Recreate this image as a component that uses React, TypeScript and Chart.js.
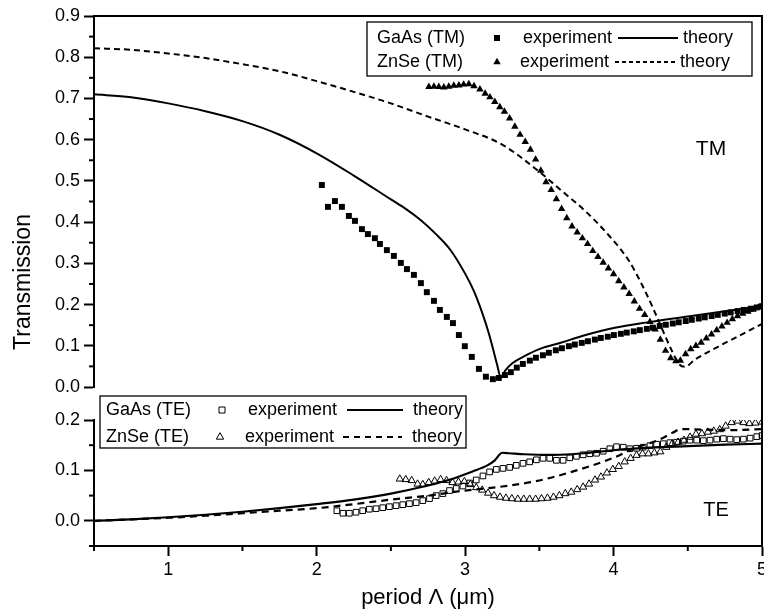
import React, { useEffect, useRef } from 'react';
import { Chart, registerables } from 'chart.js';

Chart.register(...registerables);

const FONT = '"Liberation Sans", Arial, Helvetica, sans-serif';

// ---------- axes ----------
const xMin = 0.5;
const xMax = 5;
const xMajorTicks = [1, 2, 3, 4, 5];
const xMinorTicks = [0.5, 1.5, 2.5, 3.5, 4.5];

const tmMin = 0;
const tmMax = 0.9;
const tmMajorTicks = [0, 0.1, 0.2, 0.3, 0.4, 0.5, 0.6, 0.7, 0.8, 0.9];
const tmMinorTicks = [0.05, 0.15, 0.25, 0.35, 0.45, 0.55, 0.65, 0.75, 0.85];

const teMin = -0.05;
const teMax = 0.2;
const teMajorTicks = [0, 0.1, 0.2];
const teMinorTicks = [-0.05, 0.05, 0.15];

// ---------- TM panel ----------
const gaAsTmTheoryX = [0.5, 0.75, 1.0, 1.25, 1.5, 1.75, 2.0, 2.25, 2.5, 2.6, 2.7, 2.8, 2.9, 3.0, 3.06, 3.12, 3.16, 3.19, 3.215, 3.24, 3.27, 3.32, 3.4, 3.5, 3.65, 3.8, 4.0, 4.25, 4.5, 4.75, 5.0];
const gaAsTmTheoryY = [0.71, 0.703, 0.688, 0.669, 0.645, 0.612, 0.567, 0.513, 0.455, 0.432, 0.405, 0.372, 0.333, 0.275, 0.232, 0.175, 0.13, 0.09, 0.055, 0.024, 0.04, 0.058, 0.075, 0.092, 0.108, 0.125, 0.143, 0.158, 0.171, 0.184, 0.196];

const znSeTmTheoryX = [0.5, 0.75, 1.0, 1.25, 1.5, 1.75, 2.0, 2.25, 2.5, 2.75, 3.0, 3.25, 3.5, 3.65, 3.8, 3.95, 4.1, 4.2, 4.28, 4.34, 4.39, 4.44, 4.48, 4.55, 4.7, 4.85, 5.0];
const znSeTmTheoryY = [0.822, 0.818, 0.809, 0.798, 0.783, 0.766, 0.742, 0.716, 0.688, 0.656, 0.625, 0.588, 0.522, 0.476, 0.43, 0.375, 0.308, 0.242, 0.18, 0.13, 0.09, 0.056, 0.049, 0.067, 0.097, 0.125, 0.153];

const gaAsTmExpX = [2.035, 2.076, 2.123, 2.17, 2.217, 2.258, 2.305, 2.345, 2.392, 2.426, 2.473, 2.52, 2.567, 2.608, 2.655, 2.702, 2.742, 2.79, 2.83, 2.877, 2.918, 2.958, 2.998, 3.045, 3.093, 3.14, 3.187, 3.227, 3.268, 3.308, 3.348, 3.389, 3.436, 3.477, 3.524, 3.564, 3.611, 3.652, 3.699, 3.739, 3.786, 3.827, 3.874, 3.914, 3.961, 4.002, 4.049, 4.089, 4.136, 4.177, 4.224, 4.264, 4.311, 4.352, 4.399, 4.439, 4.486, 4.527, 4.574, 4.614, 4.661, 4.702, 4.749, 4.789, 4.836, 4.877, 4.924, 4.965, 5.0];
const gaAsTmExpY = [0.49, 0.437, 0.451, 0.437, 0.415, 0.403, 0.383, 0.371, 0.361, 0.347, 0.332, 0.318, 0.301, 0.286, 0.272, 0.252, 0.23, 0.209, 0.187, 0.17, 0.155, 0.126, 0.099, 0.073, 0.044, 0.025, 0.019, 0.022, 0.029, 0.036, 0.047, 0.056, 0.064, 0.071, 0.077, 0.083, 0.089, 0.094, 0.099, 0.103, 0.107, 0.111, 0.115, 0.119, 0.122, 0.126, 0.129, 0.132, 0.135, 0.138, 0.141, 0.144, 0.148, 0.151, 0.154, 0.157, 0.16, 0.163, 0.166, 0.169, 0.172, 0.175, 0.178, 0.181, 0.184, 0.187, 0.19, 0.193, 0.196];

const znSeTmExpX = [2.756, 2.79, 2.823, 2.857, 2.89, 2.924, 2.958, 2.99, 3.025, 3.06, 3.1, 3.135, 3.167, 3.2, 3.234, 3.265, 3.3, 3.335, 3.37, 3.405, 3.44, 3.475, 3.51, 3.545, 3.58, 3.615, 3.65, 3.685, 3.72, 3.755, 3.79, 3.825, 3.86, 3.895, 3.93, 3.965, 4.0, 4.035, 4.07, 4.105, 4.14, 4.175, 4.21, 4.245, 4.28, 4.315, 4.35, 4.385, 4.42, 4.45, 4.485, 4.52, 4.555, 4.59, 4.625, 4.66, 4.695, 4.73, 4.765, 4.8, 4.835, 4.87, 4.905, 4.94, 4.975, 5.0];
const znSeTmExpY = [0.728, 0.729, 0.728, 0.727, 0.729, 0.731, 0.732, 0.734, 0.735, 0.73, 0.722, 0.712, 0.703, 0.692, 0.679, 0.668, 0.652, 0.632, 0.612, 0.595, 0.576, 0.552, 0.525, 0.497, 0.478, 0.456, 0.432, 0.41, 0.39, 0.375, 0.361, 0.347, 0.33, 0.316, 0.302, 0.288, 0.274, 0.257, 0.242, 0.226, 0.208, 0.19, 0.175, 0.158, 0.14, 0.115, 0.088, 0.07, 0.063, 0.064, 0.08, 0.092, 0.1, 0.108, 0.118, 0.128, 0.138, 0.147, 0.156, 0.165, 0.172, 0.178, 0.183, 0.188, 0.193, 0.197];

// ---------- TE panel ----------
const gaAsTeTheoryX = [0.5, 0.75, 1.0, 1.25, 1.5, 1.75, 2.0, 2.25, 2.5, 2.75, 2.9, 3.05, 3.15, 3.2, 3.25, 3.3, 3.4, 3.6, 3.8, 4.0, 4.25, 4.5, 4.75, 5.0];
const gaAsTeTheoryY = [0.0, 0.003, 0.007, 0.012, 0.018, 0.025, 0.033, 0.042, 0.054, 0.07, 0.082, 0.098, 0.11, 0.12, 0.135, 0.134, 0.132, 0.131, 0.134, 0.14, 0.145, 0.148, 0.151, 0.153];

const znSeTeTheoryX = [0.5, 0.75, 1.0, 1.25, 1.5, 1.75, 2.0, 2.25, 2.5, 2.75, 3.0, 3.25, 3.5, 3.75, 4.0, 4.15, 4.3, 4.4, 4.45, 4.6, 4.8, 5.0];
const znSeTeTheoryY = [0.0, 0.003, 0.006, 0.01, 0.015, 0.02, 0.025, 0.033, 0.042, 0.05, 0.06, 0.068, 0.08, 0.1, 0.125, 0.145, 0.16, 0.175, 0.182, 0.181, 0.18, 0.182];

const gaAsTeExpX = [2.136, 2.177, 2.22, 2.265, 2.31, 2.355, 2.4, 2.445, 2.49, 2.535, 2.58, 2.625, 2.67, 2.715, 2.76, 2.805, 2.85, 2.895, 2.94, 2.985, 3.03, 3.075, 3.12, 3.165, 3.21, 3.255, 3.3, 3.345, 3.39, 3.435, 3.48, 3.525, 3.57, 3.615, 3.66, 3.705, 3.75, 3.795, 3.84, 3.885, 3.93, 3.975, 4.02, 4.065, 4.11, 4.155, 4.2, 4.245, 4.29, 4.335, 4.38, 4.425, 4.47, 4.515, 4.56, 4.605, 4.65, 4.695, 4.74, 4.785, 4.83, 4.875, 4.92, 4.965, 5.0];
const gaAsTeExpY = [0.02, 0.015, 0.015, 0.017, 0.02, 0.023, 0.024, 0.026, 0.028, 0.03, 0.032, 0.034, 0.036, 0.04, 0.044, 0.05, 0.054, 0.06, 0.064, 0.069, 0.075, 0.081, 0.089, 0.097, 0.102, 0.104, 0.106, 0.11, 0.114, 0.117, 0.121, 0.124, 0.124, 0.12, 0.12, 0.125, 0.128, 0.131, 0.133, 0.134, 0.138, 0.143, 0.147, 0.146, 0.143, 0.144, 0.146, 0.149, 0.152, 0.153, 0.155, 0.156, 0.158, 0.16, 0.16, 0.159, 0.16, 0.162, 0.163, 0.162, 0.161, 0.162, 0.164, 0.167, 0.169];

const znSeTeExpX = [2.56, 2.6, 2.64, 2.68, 2.715, 2.755, 2.795, 2.835, 2.875, 2.915, 2.955, 2.995, 3.035, 3.075, 3.115, 3.155, 3.195, 3.235, 3.275, 3.315, 3.355, 3.395, 3.435, 3.475, 3.515, 3.555, 3.595, 3.635, 3.675, 3.715, 3.755, 3.795, 3.835, 3.875, 3.915, 3.955, 3.995, 4.035, 4.075, 4.115, 4.155, 4.195, 4.235, 4.275, 4.315, 4.355, 4.395, 4.435, 4.475, 4.515, 4.555, 4.595, 4.635, 4.675, 4.715, 4.755, 4.795, 4.835, 4.875, 4.915, 4.955, 5.0];
const znSeTeExpY = [0.083, 0.082, 0.08, 0.073, 0.072, 0.076, 0.079, 0.082, 0.08, 0.076, 0.077, 0.078, 0.072, 0.066, 0.061, 0.055, 0.05, 0.047, 0.045, 0.044, 0.043, 0.043, 0.043, 0.043, 0.044, 0.045, 0.047, 0.05, 0.054, 0.057, 0.062, 0.067, 0.073, 0.081, 0.087, 0.095, 0.102, 0.108, 0.117, 0.124, 0.13, 0.133, 0.133, 0.135, 0.137, 0.146, 0.153, 0.156, 0.16, 0.166, 0.172, 0.173, 0.176, 0.178, 0.181, 0.188, 0.195, 0.198, 0.195, 0.193, 0.194, 0.196];

// ---------- text ----------
const yTitle = 'Transmission';
const xTitle = 'period \u039B (\u03BCm)';
const tmLegendRows = [
  { name: 'GaAs (TM)', marker: 'rect', exp: 'experiment', dashed: false, theory: 'theory' },
  { name: 'ZnSe (TM)', marker: 'triangle', exp: 'experiment', dashed: true, theory: 'theory' },
];
const teLegendRows = [
  { name: 'GaAs (TE)', marker: 'rect', exp: 'experiment', dashed: false, theory: 'theory' },
  { name: 'ZnSe (TE)', marker: 'triangle', exp: 'experiment', dashed: true, theory: 'theory' },
];
const tmLabel = 'TM';
const teLabel = 'TE';

const BOTTOM_TOP = 385;

const pts = (xs: number[], ys: number[]) => xs.map((x, i) => ({ x, y: ys[i] }));

function drawMarker(ctx: CanvasRenderingContext2D, kind: string, x: number, y: number, filled: boolean) {
  ctx.save();
  ctx.beginPath();
  if (kind === 'rect') {
    ctx.rect(x - 3, y - 3, 6, 6);
  } else {
    ctx.moveTo(x, y - 4.3);
    ctx.lineTo(x + 3.7, y + 2.2);
    ctx.lineTo(x - 3.7, y + 2.2);
    ctx.closePath();
  }
  if (filled) {
    ctx.fillStyle = '#000';
    ctx.fill();
  } else {
    ctx.strokeStyle = '#000';
    ctx.lineWidth = 1;
    ctx.stroke();
  }
  ctx.restore();
}

type LegendLayout = {
  box: [number, number, number, number];
  rows: { y: number; nameX: number; markX: number; expX: number; lineX0: number; lineX1: number; theoryX: number }[];
  filled: boolean;
  dash: number[];
};

function drawLegend(ctx: CanvasRenderingContext2D, rows: typeof tmLegendRows, lay: LegendLayout) {
  ctx.save();
  ctx.strokeStyle = '#000';
  ctx.lineWidth = 1.3;
  const [l, t, r, b] = lay.box;
  ctx.strokeRect(l, t, r - l, b - t);
  ctx.fillStyle = '#000';
  ctx.font = `18px ${FONT}`;
  ctx.textBaseline = 'middle';
  ctx.textAlign = 'left';
  rows.forEach((row, i) => {
    const p = lay.rows[i];
    ctx.fillText(row.name, p.nameX, p.y);
    drawMarker(ctx, row.marker, p.markX, p.y, lay.filled);
    ctx.fillText(row.exp, p.expX, p.y);
    ctx.beginPath();
    ctx.lineWidth = 2;
    ctx.setLineDash(row.dashed ? lay.dash : []);
    ctx.moveTo(p.lineX0, p.y);
    ctx.lineTo(p.lineX1, p.y);
    ctx.stroke();
    ctx.setLineDash([]);
    ctx.fillText(row.theory, p.theoryX, p.y);
  });
  ctx.restore();
}

function minorTicksY(ctx: CanvasRenderingContext2D, scale: any, values: number[]) {
  ctx.save();
  ctx.strokeStyle = '#000';
  ctx.lineWidth = 2;
  values.forEach((v) => {
    const y = scale.getPixelForValue(v);
    ctx.beginPath();
    ctx.moveTo(scale.right - 5, y);
    ctx.lineTo(scale.right, y);
    ctx.stroke();
  });
  ctx.restore();
}

function yScaleOptions(min: number, max: number, ticks: number[]) {
  return {
    type: 'linear' as const,
    min,
    max,
    afterFit: (s: any) => { s.width = 94; },
    afterBuildTicks: (s: any) => { s.ticks = ticks.map((v) => ({ value: v })); },
    ticks: {
      autoSkip: false,
      color: '#000',
      padding: 4,
      font: { size: 18, family: FONT },
      callback: (v: any) => Number(v).toFixed(1),
    },
    grid: { display: true, drawOnChartArea: false, drawTicks: true, tickLength: 10, tickWidth: 2, tickColor: '#000' },
    border: { display: true, color: '#000', width: 2 },
  };
}

function topConfig(): any {
  return {
    type: 'scatter',
    data: {
      datasets: [
        { data: pts(gaAsTmTheoryX, gaAsTmTheoryY), showLine: true, borderColor: '#000', borderWidth: 2, pointRadius: 0, pointHoverRadius: 0, cubicInterpolationMode: 'monotone' },
        { data: pts(znSeTmTheoryX, znSeTmTheoryY), showLine: true, borderColor: '#000', borderWidth: 2, borderDash: [6, 4], pointRadius: 0, pointHoverRadius: 0, cubicInterpolationMode: 'monotone' },
        { data: pts(gaAsTmExpX, gaAsTmExpY), showLine: false, pointStyle: 'rect', pointRadius: 4.2, backgroundColor: '#000', borderColor: '#000', borderWidth: 0 },
        { data: pts(znSeTmExpX, znSeTmExpY), showLine: false, pointStyle: 'triangle', pointRadius: 4.3, backgroundColor: '#000', borderColor: '#000', borderWidth: 0 },
      ],
    },
    options: {
      animation: false,
      responsive: false,
      devicePixelRatio: 1,
      layout: { autoPadding: false, padding: { left: 0, right: 2, top: 16, bottom: 23 } },
      plugins: { legend: { display: false }, tooltip: { enabled: false } },
      scales: {
        x: { type: 'linear', min: xMin, max: xMax, display: false },
        y: yScaleOptions(tmMin, tmMax, tmMajorTicks),
      },
    },
    plugins: [
      {
        id: 'tmDecor',
        afterDraw(chart: any) {
          const ctx = chart.ctx as CanvasRenderingContext2D;
          const a = chart.chartArea;
          minorTicksY(ctx, chart.scales.y, tmMinorTicks);
          ctx.save();
          ctx.strokeStyle = '#000';
          ctx.lineWidth = 2;
          ctx.beginPath();
          ctx.moveTo(a.left - 1, a.top);
          ctx.lineTo(a.right, a.top);
          ctx.lineTo(a.right, chart.height);
          ctx.stroke();
          ctx.fillStyle = '#000';
          ctx.textAlign = 'center';
          ctx.textBaseline = 'middle';
          ctx.font = `21px ${FONT}`;
          ctx.fillText(tmLabel, 711, 149);
          ctx.translate(24, 282);
          ctx.rotate(-Math.PI / 2);
          ctx.font = `23px ${FONT}`;
          ctx.fillText(yTitle, 0, 0);
          ctx.restore();
          drawLegend(ctx, tmLegendRows, {
            box: [367, 22, 752, 76],
            filled: true,
            dash: [4, 3],
            rows: [
              { y: 38, nameX: 377, markX: 497, expX: 523, lineX0: 618, lineX1: 678, theoryX: 683 },
              { y: 62, nameX: 377, markX: 497, expX: 520, lineX0: 615, lineX1: 677, theoryX: 680 },
            ],
          });
        },
      },
    ],
  };
}

function bottomConfig(): any {
  return {
    type: 'scatter',
    data: {
      datasets: [
        { data: pts(gaAsTeTheoryX, gaAsTeTheoryY), showLine: true, borderColor: '#000', borderWidth: 2.2, pointRadius: 0, pointHoverRadius: 0, cubicInterpolationMode: 'monotone' },
        { data: pts(znSeTeTheoryX, znSeTeTheoryY), showLine: true, borderColor: '#000', borderWidth: 2.2, borderDash: [7, 5], pointRadius: 0, pointHoverRadius: 0, cubicInterpolationMode: 'monotone' },
        { data: pts(gaAsTeExpX, gaAsTeExpY), showLine: false, pointStyle: 'rect', pointRadius: 4, backgroundColor: 'rgba(255,255,255,0)', borderColor: '#000', borderWidth: 1 },
        { data: pts(znSeTeExpX, znSeTeExpY), showLine: false, pointStyle: 'triangle', pointRadius: 4.2, backgroundColor: 'rgba(255,255,255,0)', borderColor: '#000', borderWidth: 1 },
      ],
    },
    options: {
      animation: false,
      responsive: false,
      devicePixelRatio: 1,
      layout: { autoPadding: false, padding: { left: 0, right: 2, top: 35, bottom: 0 } },
      plugins: { legend: { display: false }, tooltip: { enabled: false } },
      scales: {
        x: {
          type: 'linear',
          position: 'bottom',
          min: xMin,
          max: xMax,
          afterFit: (s: any) => { s.height = 69; s.paddingLeft = 0; s.paddingRight = 0; },
          afterBuildTicks: (s: any) => { s.ticks = xMajorTicks.map((v) => ({ value: v })); },
          ticks: { autoSkip: false, maxRotation: 0, color: '#000', padding: 3, font: { size: 18, family: FONT }, callback: (v: any) => String(v) },
          grid: { display: true, drawOnChartArea: false, drawTicks: true, tickLength: 10, tickWidth: 2, tickColor: '#000' },
          border: { display: true, color: '#000', width: 2 },
          title: { display: true, text: xTitle, color: '#000', font: { size: 22, family: FONT }, padding: { top: 0, bottom: 4 } },
        },
        y: yScaleOptions(teMin, teMax, teMajorTicks),
      },
    },
    plugins: [
      {
        id: 'teDecor',
        afterDraw(chart: any) {
          const ctx = chart.ctx as CanvasRenderingContext2D;
          const a = chart.chartArea;
          const xs = chart.scales.x;
          minorTicksY(ctx, chart.scales.y, teMinorTicks);
          ctx.save();
          ctx.strokeStyle = '#000';
          ctx.lineWidth = 2;
          xMinorTicks.forEach((v) => {
            const px = xs.getPixelForValue(v);
            ctx.beginPath();
            ctx.moveTo(px, a.bottom);
            ctx.lineTo(px, a.bottom + 5);
            ctx.stroke();
          });
          ctx.beginPath();
          ctx.moveTo(a.right, 0);
          ctx.lineTo(a.right, a.bottom);
          ctx.stroke();
          ctx.fillStyle = '#000';
          ctx.textAlign = 'center';
          ctx.textBaseline = 'middle';
          ctx.font = `20px ${FONT}`;
          ctx.fillText(teLabel, 716, 510 - BOTTOM_TOP);
          ctx.restore();
          drawLegend(ctx, teLegendRows, {
            box: [100, 396 - BOTTOM_TOP, 466, 448 - BOTTOM_TOP],
            filled: false,
            dash: [6, 5],
            rows: [
              { y: 410 - BOTTOM_TOP, nameX: 106, markX: 222, expX: 248, lineX0: 347, lineX1: 403, theoryX: 413 },
              { y: 437 - BOTTOM_TOP, nameX: 106, markX: 220, expX: 245, lineX0: 343, lineX1: 402, theoryX: 412 },
            ],
          });
        },
      },
    ],
  };
}

export default function App() {
  const topRef = useRef<HTMLCanvasElement>(null);
  const botRef = useRef<HTMLCanvasElement>(null);
  useEffect(() => {
    const c1 = new Chart(topRef.current as HTMLCanvasElement, topConfig());
    const c2 = new Chart(botRef.current as HTMLCanvasElement, bottomConfig());
    return () => {
      c1.destroy();
      c2.destroy();
    };
  }, []);
  return (
    <div style={{ position: 'absolute', left: 0, top: 0, width: 764, height: 615, background: '#fff', overflow: 'hidden' }}>
      <canvas ref={topRef} width={764} height={410} style={{ position: 'absolute', left: 0, top: 0, width: 764, height: 410 }} />
      <canvas ref={botRef} width={764} height={230} style={{ position: 'absolute', left: 0, top: BOTTOM_TOP, width: 764, height: 230 }} />
    </div>
  );
}
